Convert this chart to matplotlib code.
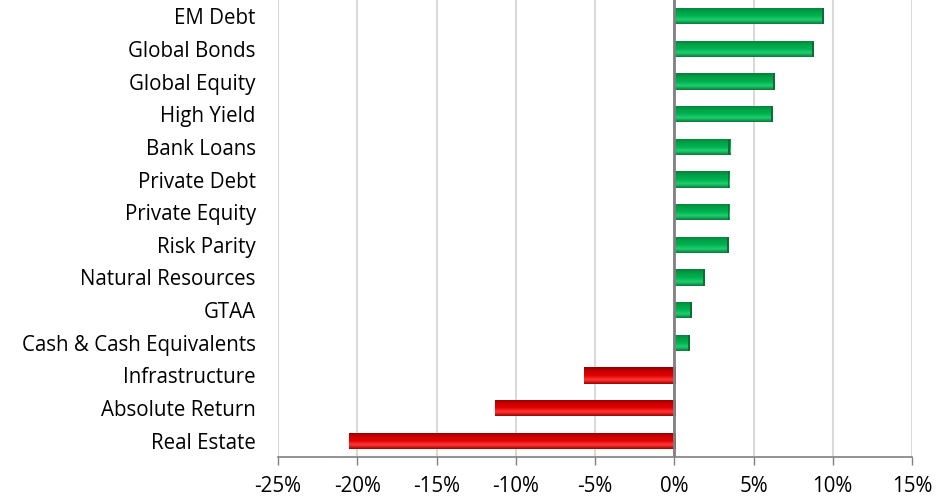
import numpy as np
import matplotlib
matplotlib.use("Agg")
import matplotlib.pyplot as plt
from matplotlib.colors import LinearSegmentedColormap
from matplotlib.ticker import FuncFormatter

categories = ["EM Debt", "Global Bonds", "Global Equity", "High Yield", "Bank Loans",
              "Private Debt", "Private Equity", "Risk Parity", "Natural Resources",
              "GTAA", "Cash & Cash Equivalents", "Infrastructure", "Absolute Return",
              "Real Estate"]
values = [9.45, 8.82, 6.37, 6.2, 3.54, 3.48, 3.48, 3.46, 1.94, 1.1, 1.0, -5.68, -11.33, -20.5]
xticks = [-25, -20, -15, -10, -5, 0, 5, 10, 15]

plt.rcParams['font.family'] = ['Open Sans', 'DejaVu Sans']

fig = plt.figure(figsize=(9.52, 5.0), dpi=100)
ax = fig.add_axes([278/952, 43/500, 634/952, 457/500])

n = len(categories)
ypos = np.arange(n)[::-1]
h = 0.5

green_cmap = LinearSegmentedColormap.from_list("g", ["#0a7a3a", "#1fd070", "#00b050", "#00a047", "#06803a"])
red_cmap = LinearSegmentedColormap.from_list("r", ["#a00000", "#ff3a3a", "#e00000", "#cc0000", "#8a0000"])
grad = np.linspace(0, 1, 64).reshape(-1, 1)

bars = ax.barh(ypos, values, height=h, color=["#00b050" if v >= 0 else "#e00000" for v in values],
               zorder=3, linewidth=0)
for b, v in zip(bars, values):
    x0 = b.get_x()
    w = b.get_width()
    y0 = b.get_y()
    cmap = green_cmap if v >= 0 else red_cmap
    im = ax.imshow(grad, cmap=cmap, aspect='auto', extent=[x0, x0 + w, y0 + h, y0],
                   zorder=4, interpolation='bilinear')
    im.set_clip_path(b)
    cap = 0.12
    if v >= 0:
        ax.add_patch(plt.Rectangle((x0 + w - cap, y0), cap, h, color="#0b6e35", zorder=5, lw=0))
    else:
        ax.add_patch(plt.Rectangle((x0, y0), cap, h, color="#8a0000", zorder=5, lw=0))

ax.set_xlim(-25, 15)
ax.set_ylim(-0.5, n - 0.5)
ax.set_xticks(xticks)
ax.xaxis.set_major_formatter(FuncFormatter(lambda x, p: f"{int(round(x))}%"))
ax.set_yticks(ypos)
ax.set_yticklabels(categories)
ax.grid(axis='x', color='#d9d9d9', linewidth=1.5, zorder=0)
ax.set_axisbelow(True)
ax.axvline(0, color='#808080', linewidth=2, zorder=6)

for s in ['top', 'right', 'left']:
    ax.spines[s].set_visible(False)
ax.spines['bottom'].set_color('#808080')
ax.spines['bottom'].set_linewidth(1.2)
ax.tick_params(axis='y', length=0, pad=16, labelsize=14.8, colors='#000000')
ax.tick_params(axis='x', length=6, width=1, color='#808080', pad=8, labelsize=14.8)

fig.savefig("out.png", dpi=100, facecolor='white')
